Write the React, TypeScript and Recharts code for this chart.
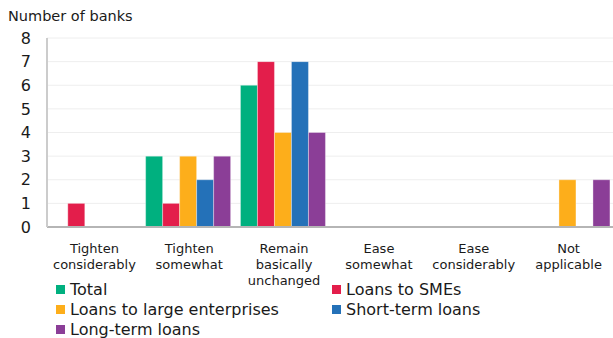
import React from 'react'
import { BarChart, Bar, XAxis, YAxis, CartesianGrid } from 'recharts'

const FONT = "'DejaVu Sans', Verdana, sans-serif"

const categories = [
  'Tighten\nconsiderably',
  'Tighten\nsomewhat',
  'Remain\nbasically\nunchanged',
  'Ease\nsomewhat',
  'Ease\nconsiderably',
  'Not\napplicable',
]

const total = [0, 3, 6, 0, 0, 0]
const smes = [1, 1, 7, 0, 0, 0]
const large = [0, 3, 4, 0, 0, 2]
const shortTerm = [0, 2, 7, 0, 0, 0]
const longTerm = [0, 3, 4, 0, 0, 2]

const yTicks = [0, 1, 2, 3, 4, 5, 6, 7, 8]

const series = [
  { key: 'total', name: 'Total', color: '#00b07f', values: total },
  { key: 'smes', name: 'Loans to SMEs', color: '#e31e4b', values: smes },
  { key: 'large', name: 'Loans to large enterprises', color: '#fdae1b', values: large },
  { key: 'short', name: 'Short-term loans', color: '#2471b8', values: shortTerm },
  { key: 'long', name: 'Long-term loans', color: '#8b3e97', values: longTerm },
]

const data = categories.map((c, i) => {
  const row: Record<string, string | number> = { cat: c }
  series.forEach(s => { row[s.key] = s.values[i] })
  return row
})

function CatTick({ x, y, payload }: { x?: number; y?: number; payload?: { value: string } }) {
  const lines = (payload?.value ?? '').split('\n')
  return (
    <text x={x} y={(y ?? 0) + 18} textAnchor="middle" fill="#1a1a1a" fontSize={13} fontFamily={FONT}>
      {lines.map((l, i) => (
        <tspan key={i} x={x} dy={i === 0 ? 0 : 16}>{l}</tspan>
      ))}
    </text>
  )
}

export default function App() {
  return (
    <div style={{ position: 'fixed', left: 0, top: 0, width: 613, height: 338, overflow: 'hidden', background: '#fff', fontFamily: FONT }}>
      <div style={{ position: 'absolute', left: 8, top: 8, fontSize: 14.5, color: '#1a1a1a' }}>Number of banks</div>

      <div style={{ position: 'absolute', left: 0, top: 0 }}>
        <BarChart
          width={621}
          height={300}
          data={data}
          margin={{ top: 38, right: 5, left: 0, bottom: 0 }}
          barCategoryGap="4%"
          barGap={0}
        >
          <CartesianGrid vertical={false} stroke="#eeeeee" strokeWidth={1} />
          <XAxis
            dataKey="cat"
            interval={0}
            height={73}
            tickLine={false}
            axisLine={{ stroke: '#b5b5b5', strokeWidth: 2 }}
            tick={<CatTick />}
          />
          <YAxis
            width={47}
            domain={[0, 8]}
            ticks={yTicks}
            interval={0}
            tickLine={false}
            tickMargin={10}
            axisLine={{ stroke: '#cccccc', strokeWidth: 2 }}
            tick={{ fill: '#1a1a1a', fontSize: 16, fontFamily: FONT }}
          />
          {series.map(s => (
            <Bar
              key={s.key}
              dataKey={s.key}
              name={s.name}
              fill={s.color}
              stroke="#ffffff"
              strokeOpacity={0.35}
              strokeWidth={1}
              isAnimationActive={false}
            />
          ))}
        </BarChart>
      </div>

      {series.map((s, i) => {
        const col = i % 2
        const row = Math.floor(i / 2)
        return (
          <div
            key={s.key}
            style={{
              position: 'absolute',
              left: col === 0 ? 56 : 332,
              top: 279 + row * 20,
              height: 20,
              display: 'flex',
              alignItems: 'center',
              fontSize: 16,
              color: '#1a1a1a',
              whiteSpace: 'nowrap',
            }}
          >
            <span style={{ display: 'inline-block', width: 9, height: 9, background: s.color, marginRight: 5 }} />
            {s.name}
          </div>
        )
      })}
    </div>
  )
}
